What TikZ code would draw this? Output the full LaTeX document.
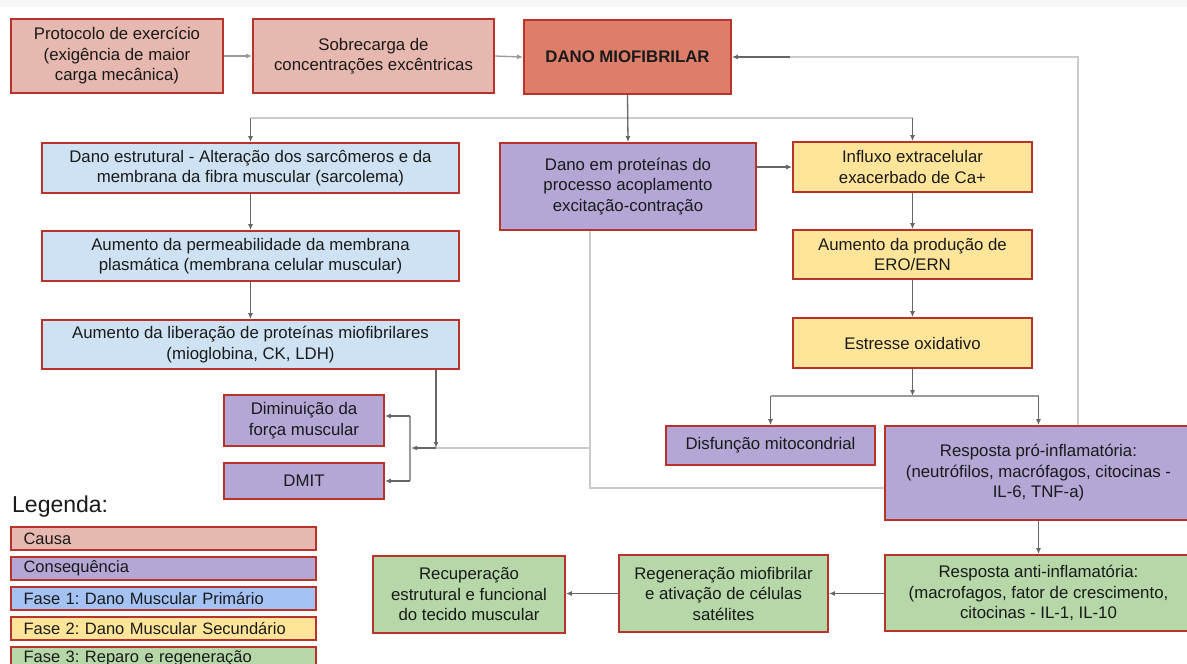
\documentclass[tikz,border=0pt]{standalone}
\usepackage{fontspec}
\setmainfont{Liberation Sans}
\usetikzlibrary{arrows.meta,calc}
\definecolor{bord}{HTML}{B8342A}
\definecolor{causa}{HTML}{E6B8AF}
\definecolor{danoc}{HTML}{DD7E6B}
\definecolor{azul}{HTML}{CFE2F3}
\definecolor{azulleg}{HTML}{A4C2F4}
\definecolor{roxo}{HTML}{B4A7D6}
\definecolor{amarelo}{HTML}{FFE599}
\definecolor{verde}{HTML}{B6D7A8}
\definecolor{darkln}{HTML}{666666}
\definecolor{lightln}{HTML}{CBCBCB}
\definecolor{midln}{HTML}{9A9A9A}
\definecolor{txt}{HTML}{1A1A1A}
\frenchspacing
\begin{document}
\begin{tikzpicture}[x=1pt,y=-1pt,
  box/.style={draw=bord, line width=1.8pt, align=center, inner sep=0pt,
    font=\fontsize{16.8}{20.5}\selectfont, text=txt},
  dk/.style={draw=darkln, line width=1.3pt, -{Latex[length=6pt,width=5pt]}},
  lt/.style={draw=lightln, line width=2pt},
  md/.style={draw=midln, line width=1.5pt},
  legbox/.style={box, minimum height=23pt, text width=280pt, inner xsep=12.5pt,
    align=left, font=\fontsize{16.5}{18}\selectfont},
]
\useasboundingbox (0,0) rectangle (1187,664);
\clip (0,0) rectangle (1187,664);
\fill[white] (0,0) rectangle (1187,664);
\fill[black!3] (0,0) rectangle (1187,7);

% top row
\node[box, fill=causa, minimum width=212pt, minimum height=74pt] (prot) at (117,56)
  {Protocolo de exercício\\(exigência de maior\\carga mecânica)};
\node[box, fill=causa, minimum width=241pt, minimum height=74pt] (sobre) at (373.5,56)
  {Sobrecarga de\\concentrações excêntricas};
\node[box, fill=danoc, minimum width=207pt, minimum height=74pt] (dano) at (627.5,57)
  {\textbf{DANO MIOFIBRILAR}};

% left column
\node[box, fill=azul, minimum width=417pt, minimum height=50pt] (estr) at (250.5,168)
  {Dano estrutural - Alteração dos sarcômeros e da\\membrana da fibra muscular (sarcolema)};
\node[box, fill=azul, minimum width=417pt, minimum height=50pt] (perm) at (250.5,256)
  {Aumento da permeabilidade da membrana\\plasmática (membrana celular muscular)};
\node[box, fill=azul, minimum width=417pt, minimum height=49pt] (lib) at (250.5,344.5)
  {Aumento da liberação de proteínas miofibrilares\\(mioglobina, CK, LDH)};

% middle
\node[box, fill=roxo, minimum width=256pt, minimum height=87pt] (prot2) at (628,186.5)
  {Dano em proteínas do\\processo acoplamento\\excitação-contração};

% right column
\node[box, fill=amarelo, minimum width=239pt, minimum height=50pt] (influx) at (912.5,167)
  {Influxo extracelular\\exacerbado de Ca+};
\node[box, fill=amarelo, minimum width=239pt, minimum height=49pt] (ero) at (912.5,254.5)
  {Aumento da produção de\\ERO/ERN};
\node[box, fill=amarelo, minimum width=239pt, minimum height=50pt] (estresse) at (912.5,343)
  {Estresse oxidativo};

\node[box, fill=roxo, minimum width=209pt, minimum height=39pt] (disf) at (770.5,445.5)
  {Disfunção mitocondrial};
\node[box, fill=roxo, minimum width=307pt, minimum height=94pt] (pro) at (1038.5,473)
  {Resposta pró-inflamatória:\\(neutrófilos, macrófagos, citocinas -\\IL-6, TNF-a)};

\node[box, fill=roxo, minimum width=160pt, minimum height=51pt] (dimin) at (304,420.5)
  {Diminuição da\\força muscular};
\node[box, fill=roxo, minimum width=160pt, minimum height=36pt] (dmit) at (304,481)
  {DMIT};

% bottom row
\node[box, fill=verde, minimum width=307pt, minimum height=76pt] (anti) at (1038.5,593)
  {Resposta anti-inflamatória:\\(macrofagos, fator de crescimento,\\citocinas - IL-1, IL-10};
\node[box, fill=verde, minimum width=209pt, minimum height=77pt] (regen) at (723.5,593.5)
  {Regeneração miofibrilar\\e ativação de células\\satélites};
\node[box, fill=verde, minimum width=192pt, minimum height=77pt] (recup) at (469,594.5)
  {Recuperação\\estrutural e funcional\\do tecido muscular};

% legend
\node[anchor=west, font=\fontsize{23}{26}\selectfont, text=txt, inner sep=0pt] (leg) at (12,507) {Legenda:};
\node[legbox, fill=causa] (l1) at (163.5,538.5) {Causa};
\node[legbox, fill=roxo] (l2) at (163.5,568.5) {Consequência};
\node[legbox, fill=azulleg] (l3) at (163.5,598.5) {Fase 1: Dano Muscular Primário};
\node[legbox, fill=amarelo] (l4) at (163.5,628.5) {Fase 2: Dano Muscular Secundário};
\node[legbox, fill=verde] (l5) at (163.5,658.5) {Fase 3: Reparo e regeneração};

% coordinates for connector bends
\coordinate (split) at (627.5,118);
\coordinate (fb) at (1078,57);
\coordinate (fbm) at (790,57);
\coordinate (ebr) at (912.5,396);
\coordinate (pj) at (590,488);
\coordinate (pb) at (590,448);
\coordinate (lm) at (436,448);
\coordinate (bt) at (410,416);
\coordinate (bb) at (410,481);
\coordinate (bm) at (411,448);

% connectors
\draw[dk, draw=midln] (prot.east) -- (sobre.west);
\draw[dk, draw=midln] (sobre.east) -- (dano.west);

\draw[lt] (pro.north -| fb) -- (fb) -- (fbm);
\draw[dk] (fbm) -- (dano.east);

\draw[lt, line width=1.7pt] (estr.north |- split) -- (influx.north |- split);
\draw[dk] (dano.south) -- (prot2.north);
\draw[dk] (estr.north |- split) -- (estr.north);
\draw[dk] (influx.north |- split) -- (influx.north);

\draw[dk] (estr.south) -- (perm.north);
\draw[dk] (perm.south) -- (lib.north);

\draw[dk] (prot2.east |- influx.west) -- (influx.west);
\draw[dk] (influx.south) -- (ero.north);
\draw[dk] (ero.south) -- (estresse.north);

\draw[dk] (estresse.south) -- (ebr);
\draw[md] (ebr -| disf.north) -- (ebr -| pro.north);
\draw[dk] (ebr -| disf.north) -- (disf.north);
\draw[dk] (ebr -| pro.north) -- (pro.north);

\draw[lt] (prot2.south -| pj) -- (pj) -- (pj -| pro.west);
\draw[lt] (pb) -- (lm);
\draw[dk] (lm) -- (bm);
\draw[dk] (lib.south -| lm) -- (lm);

\draw[md] (bt) -- (bb);
\draw[dk] (bt) -- (bt -| dimin.east);
\draw[dk] (bb) -- (dmit.east);

\draw[dk] (pro.south) -- (anti.north);
\draw[dk] (anti.west |- regen.east) -- (regen.east);
\draw[dk] (regen.west) -- (regen.west -| recup.east);
\end{tikzpicture}
\end{document}
